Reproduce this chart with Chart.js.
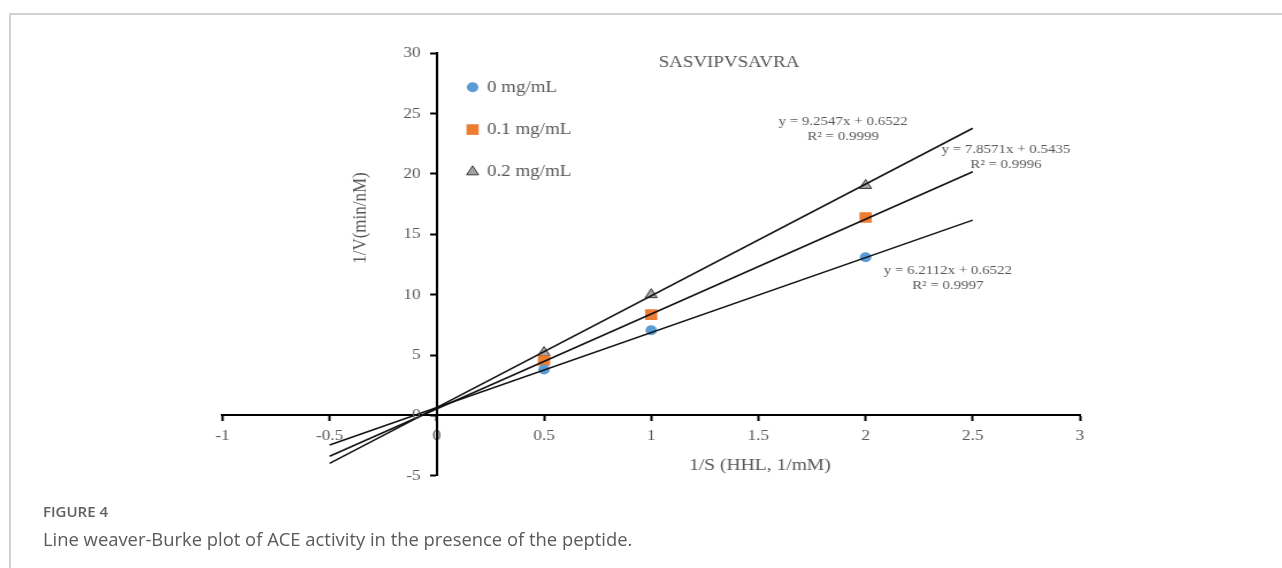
<!DOCTYPE html>
<html>
<head>
<meta charset="utf-8">
<title>Lineweaver-Burk plot</title>
<script src="https://cdn.jsdelivr.net/npm/chart.js@4.4.1/dist/chart.umd.min.js"></script>
<style>
  html, body { margin: 0; padding: 0; background: #fff; }
  body { width: 1282px; height: 568px; position: relative; overflow: hidden; }
  .frame {
    position: absolute; left: 9px; top: 13px; right: 0; bottom: 0;
    border-top: 2px solid #d2d2d2; border-left: 2px solid #d2d2d2;
  }
  /* the source figure is a horizontally stretched Excel export */
  .plot {
    position: absolute; left: 0; top: 0; width: 1115px; height: 568px;
    transform: scaleX(1.15); transform-origin: 0 0;
  }
  .fig-label {
    position: absolute; left: 43px; top: 501px;
    font: 600 15px 'Open Sans', sans-serif; color: #5f5f5f;
  }
  .fig-text {
    position: absolute; left: 43px; top: 526px;
    font: 400 18.4px 'Open Sans', sans-serif; color: #5a5a5a;
  }
</style>
</head>
<body>
<div class="frame"></div>
<div class="plot"><canvas id="chart"></canvas></div>
<div class="fig-label">FIGURE 4</div>
<div class="fig-text">Line weaver-Burke plot of ACE activity in the presence of the peptide.</div>

<script>
// data
const substrateInv = [0.5, 1, 2];            // 1/S (HHL, 1/mM)
const rate0 = [3.8, 7.05, 13.1];             // 1/V, 0 mg/mL
const rate01 = [4.55, 8.35, 16.4];           // 1/V, 0.1 mg/mL
const rate02 = [5.2, 10.0, 19.05];           // 1/V, 0.2 mg/mL
const seriesNames = ['0 mg/mL', '0.1 mg/mL', '0.2 mg/mL'];

// linear trend lines as printed on the chart
const fitSlopes = [6.2112, 7.8571, 9.2547];
const fitIntercepts = [0.6522, 0.5435, 0.6522];
const fitR2 = ['0.9997', '0.9996', '0.9999'];
const fitRange = [-0.5, 2.5];

const chartTitle = 'SASVIPVSAVRA';
const xTitle = '1/S (HHL, 1/mM)';
const yTitle = '1/V(min/nM)';

const SERIF = "'Liberation Serif', 'Times New Roman', serif";
const TEXT = '#595959';

const markers = [
  { pointStyle: 'circle', radius: 5, fill: '#5b9bd5', stroke: '#5b9bd5', width: 0 },
  { pointStyle: 'rect', radius: 7.5, fill: '#ed7d31', stroke: '#ed7d31', width: 0 },
  { pointStyle: 'triangle', radius: 6, fill: '#a5a5a5', stroke: '#3a3a3a', width: 1 },
];

const pointSets = [rate0, rate01, rate02].map((vals, i) => ({
  label: seriesNames[i],
  data: substrateInv.map((x, j) => ({ x, y: vals[j] })),
  pointStyle: markers[i].pointStyle,
  pointRadius: markers[i].radius,
  pointHoverRadius: markers[i].radius,
  pointBackgroundColor: markers[i].fill,
  pointBorderColor: markers[i].stroke,
  pointBorderWidth: markers[i].width,
  showLine: false,
  order: 1,
}));

const fitSets = fitSlopes.map((m, i) => ({
  label: 'Linear (' + seriesNames[i] + ')',
  data: fitRange.map((x) => ({ x, y: m * x + fitIntercepts[i] })),
  showLine: true,
  pointRadius: 0,
  borderColor: '#111',
  borderWidth: 1.5,
  order: 0,
}));

const tickFont = { family: SERIF, size: 15 };

// legend, equations, title, axis titles and y tick labels sit inside the plot area
const figureText = {
  id: 'figureText',
  afterDraw(chart, args, opts) {
    const { ctx, scales: { x, y } } = chart;
    const at = (p) => [x.getPixelForValue(p.x), y.getPixelForValue(p.y)];
    ctx.save();
    ctx.fillStyle = TEXT;
    ctx.textBaseline = 'middle';

    // y tick labels (chart.js puts them on top of an axis positioned at x = 0)
    ctx.textAlign = 'right';
    ctx.font = tickFont.size + 'px ' + SERIF;
    const yAxisX = x.getPixelForValue(0) - opts.yTickGap;
    y.ticks.forEach((t) => ctx.fillText(String(t.value), yAxisX, y.getPixelForValue(t.value)));

    // equations
    ctx.textAlign = 'center';
    ctx.font = '13px ' + SERIF;
    opts.equations.forEach((p, i) => {
      const [cx, cy] = at(p);
      ctx.fillText('y = ' + fitSlopes[i].toFixed(4) + 'x + ' + fitIntercepts[i].toFixed(4), cx, cy);
      ctx.fillText('R\u00B2 = ' + fitR2[i], cx, cy + 15);
    });

    // title + x title
    ctx.font = '16.5px ' + SERIF;
    let [tx, ty] = at(opts.title);
    ctx.fillText(chartTitle, tx, ty);
    ctx.font = '17px ' + SERIF;
    [tx, ty] = at(opts.xTitle);
    ctx.fillText(xTitle, tx, ty);

    // y title
    [tx, ty] = at(opts.yTitle);
    ctx.save();
    ctx.translate(tx, ty);
    ctx.rotate(-Math.PI / 2);
    ctx.fillText(yTitle, 0, 0);
    ctx.restore();

    // legend
    ctx.textAlign = 'left';
    ctx.font = '16.5px ' + SERIF;
    pointSets.forEach((ds, i) => {
      const [lx, ly] = at({ x: opts.legend.x, y: opts.legend.y - i * opts.legend.step });
      ctx.fillStyle = markers[i].fill;
      ctx.strokeStyle = markers[i].stroke;
      ctx.lineWidth = markers[i].width;
      Chart.helpers.drawPoint(ctx, {
        pointStyle: markers[i].pointStyle,
        radius: markers[i].radius,
        rotation: 0,
        borderWidth: markers[i].width,
      }, lx, ly);
      ctx.fillStyle = TEXT;
      ctx.fillText(ds.label, lx + 12.5, ly);
    });
    ctx.restore();
  },
};

new Chart(document.getElementById('chart'), {
  type: 'scatter',
  data: { datasets: [...fitSets, ...pointSets] },
  options: {
    responsive: true,
    maintainAspectRatio: false,
    animation: false,
    layout: { padding: { left: 193.4, right: 175.9, top: 53.3, bottom: 92.3 } },
    plugins: {
      legend: { display: false },
      tooltip: { enabled: false },
      figureText: {
        yTickGap: 14,
        equations: [{ x: 2.384, y: 11.97 }, { x: 2.655, y: 21.99 }, { x: 1.895, y: 24.33 }],
        title: { x: 1.363, y: 29.19 },
        xTitle: { x: 1.507, y: -4.19 },
        yTitle: { x: -0.354, y: 16.35 },
        legend: { x: 0.167, y: 27.18, step: 3.5 },
      },
    },
    scales: {
      x: {
        type: 'linear',
        position: { y: 0 },
        min: -1,
        max: 3,
        ticks: {
          stepSize: 0.5, color: TEXT, font: tickFont, padding: 7, maxRotation: 0, autoSkip: false,
          callback: (v) => String(v),
        },
        grid: { drawOnChartArea: false, tickLength: 5, tickColor: '#000', tickWidth: 2 },
        border: { color: '#000', width: 2 },
      },
      y: {
        type: 'linear',
        position: { x: 0 },
        min: -5,
        max: 30,
        ticks: { stepSize: 5, display: false },
        grid: { drawOnChartArea: false, tickLength: 5, tickColor: '#000', tickWidth: 2 },
        border: { color: '#000', width: 2 },
      },
    },
  },
  plugins: [figureText],
});
</script>
</body>
</html>
